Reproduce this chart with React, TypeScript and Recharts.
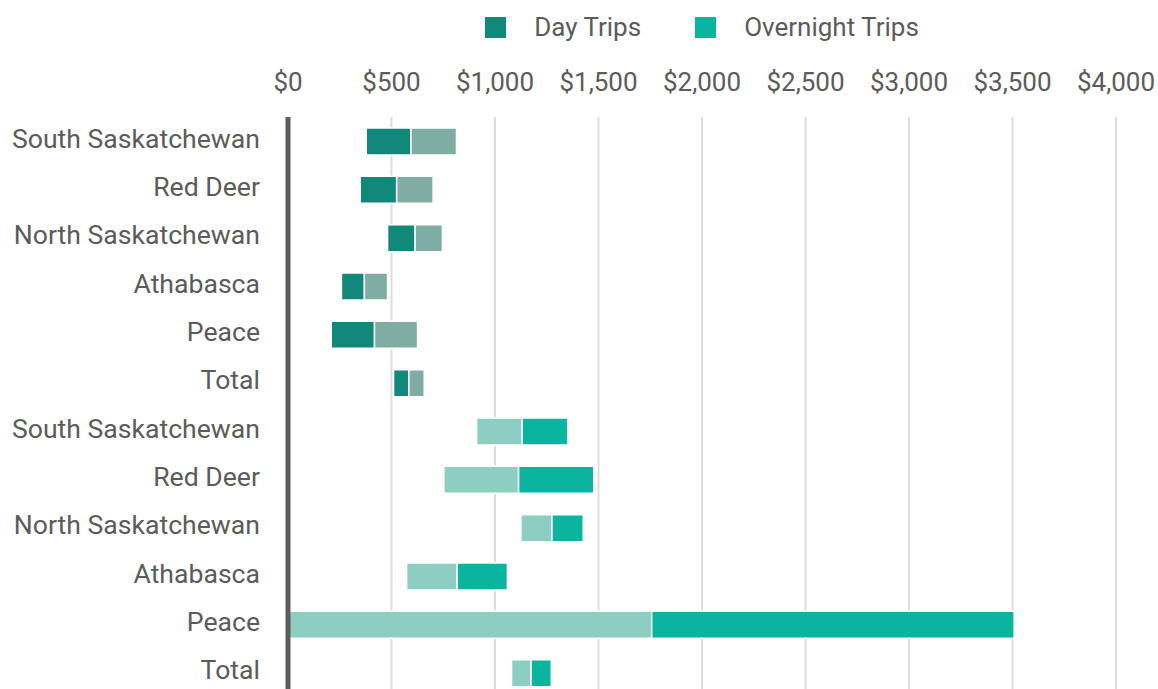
import React from 'react';
import { Bar, BarChart, CartesianGrid, Cell, XAxis, YAxis } from 'recharts';

const regions = ['South Saskatchewan', 'Red Deer', 'North Saskatchewan', 'Athabasca', 'Peace', 'Total'];

// day trips: low / mid / high spending estimates
const dayLow = [378, 349, 481, 258, 209, 510];
const dayMid = [594, 525, 614, 369, 418, 584];
const dayHigh = [814, 701, 746, 481, 626, 658];

// overnight trips
const overnightLow = [911, 753, 1125, 573, 0, 1080];
const overnightMid = [1131, 1114, 1275, 817, 1757, 1174];
const overnightHigh = [1352, 1477, 1426, 1060, 3508, 1272];

const xTicks = [0, 500, 1000, 1500, 2000, 2500, 3000, 3500, 4000];

const COLORS = {
  day: { lower: '#10897a', upper: '#7fada3', legend: '#10897a' },
  overnight: { lower: '#8ccec1', upper: '#0bb49f', legend: '#0bb49f' },
};

const TEXT = '#5b5b5b';
const FONT_SIZE = 26;

const rows = [
  ...regions.map((name, i) => ({
    key: `day-${i}`,
    name,
    trip: 'day' as const,
    base: dayLow[i],
    lower: dayMid[i] - dayLow[i],
    upper: dayHigh[i] - dayMid[i],
  })),
  ...regions.map((name, i) => ({
    key: `overnight-${i}`,
    name,
    trip: 'overnight' as const,
    base: overnightLow[i],
    lower: overnightMid[i] - overnightLow[i],
    upper: overnightHigh[i] - overnightMid[i],
  })),
];

const labelFor = (key: string) => rows.find((r) => r.key === key)?.name ?? key;

const LegendItem = ({ color, label }: { color: string; label: string }) => (
  <div style={{ display: 'flex', alignItems: 'center' }}>
    <span style={{ width: 21, height: 21, background: color, display: 'inline-block', marginRight: 28 }} />
    <span style={{ fontSize: FONT_SIZE, color: TEXT }}>{label}</span>
  </div>
);

const App = () => {
  return (
    <div style={{ position: 'absolute', left: 0, top: 0, width: 1158, height: 697, fontFamily: 'Roboto, sans-serif' }}>
      <div
        style={{
          position: 'absolute',
          left: 288,
          top: 9,
          width: 828,
          height: 36,
          display: 'flex',
          justifyContent: 'center',
          alignItems: 'center',
          gap: 54,
        }}
      >
        <LegendItem color={COLORS.day.legend} label="Day Trips" />
        <LegendItem color={COLORS.overnight.legend} label="Overnight Trips" />
      </div>
      <BarChart
        width={1158}
        height={697}
        data={rows}
        layout="vertical"
        margin={{ top: 0, right: 42, bottom: 0, left: 0 }}
      >
        <CartesianGrid horizontal={false} stroke="#dddddd" strokeWidth={2} />
        <XAxis
          type="number"
          orientation="top"
          domain={[0, 4000]}
          ticks={xTicks}
          height={117}
          axisLine={false}
          tickLine={false}
          tickSize={0}
          tickMargin={26}
          tick={{ fill: TEXT, fontSize: FONT_SIZE }}
          tickFormatter={(v: number) => `$${v.toLocaleString('en-US')}`}
        />
        <YAxis
          type="category"
          dataKey="key"
          width={288}
          axisLine={{ stroke: '#5c5c5c', strokeWidth: 5 }}
          tickLine={false}
          tickSize={0}
          tickMargin={28}
          tick={{ fill: TEXT, fontSize: 26.6, dy: -3 }}
          tickFormatter={labelFor}
        />
        <Bar dataKey="base" stackId="a" fill="transparent" barSize={27} isAnimationActive={false} />
        <Bar dataKey="lower" stackId="a" stroke="#ffffff" strokeWidth={1.5} barSize={27} isAnimationActive={false}>
          {rows.map((r) => (
            <Cell key={r.key} fill={COLORS[r.trip].lower} />
          ))}
        </Bar>
        <Bar dataKey="upper" stackId="a" stroke="#ffffff" strokeWidth={1.5} barSize={27} isAnimationActive={false}>
          {rows.map((r) => (
            <Cell key={r.key} fill={COLORS[r.trip].upper} />
          ))}
        </Bar>
      </BarChart>
    </div>
  );
};

export default App;
